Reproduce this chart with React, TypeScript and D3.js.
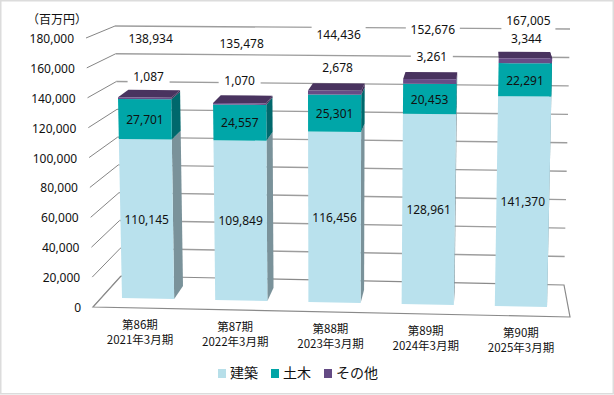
import React from "react";
import * as d3 from "d3";

const periods = ["第86期", "第87期", "第88期", "第89期", "第90期"];
const fiscalYears = ["2021年3月期", "2022年3月期", "2023年3月期", "2024年3月期", "2025年3月期"];
const kenchiku = [110145, 109849, 116456, 128961, 141370];
const doboku = [27701, 24557, 25301, 20453, 22291];
const sonota = [1087, 1070, 2678, 3261, 3344];
const totals = [138934, 135478, 144436, 152676, 167005];
const valueTicks = d3.range(0, 180001, 20000);
const legendNames = ["建築", "土木", "その他"];

const otherLabelShift = [[4, -21], [0, -23], [3, -23], [2, -23], [1, -20]];
const totalLabelShift = [[6, -59], [2, -60], [4, -56], [3, -50], [3, -38]];

type Pt = [number, number];
const lerp = (a: Pt, b: Pt, t: number): Pt => [a[0] + (b[0] - a[0]) * t, a[1] + (b[1] - a[1]) * t];
const bilinear = (bl: Pt, br: Pt, tl: Pt, tr: Pt) => (u: number, v: number): Pt =>
  lerp(lerp(bl, br, u), lerp(tl, tr, u), v);

const vScale = d3.scaleLinear().domain([0, 180000]).range([0, 1]);
const band = d3.scaleBand<number>().domain(d3.range(5)).range([0, 1]).paddingInner(0.44).paddingOuter(0);

const front = bilinear([122, 298], [547, 307], [116.8, 38], [552.5, 39]);
const backWall = bilinear([121, 276], [564, 285], [115, 26], [570, 29]);
const leftEdge = (v: number) => lerp([93, 307], [86, 38], v);

const VP: Pt = [483, -165];
const DEPTH = 0.0285;
const toBack = (p: Pt): Pt => lerp(p, VP, DEPTH);

const poly = (pts: Pt[]) => pts.map((p) => p.map((n) => n.toFixed(2)).join(",")).join(" ");

const seriesStyle = [
  { front: "#b9e1ed", side: "#7a929a", top: "#b9e1ed" },
  { front: "#00a6a8", side: "#00686c", top: "#00a6a8" },
  { front: "#674c86", side: "#3f2d57", top: "#49335f" },
];
const legendColors = ["#b7dfe9", "#00a4a6", "#644a84"];

const NUM = "'Noto Sans', 'Noto Sans CJK JP', sans-serif";
const CJK = "'Noto Sans CJK JP', 'Noto Sans', sans-serif";
const fmt = d3.format(",");
const catX = d3.scaleLinear().domain([0, 4]).range([140, 521]);
const catY = d3.scaleLinear().domain([0, 4]).range([325, 333]);

export default function App() {
  const bars = d3.range(5).map((i) => {
    const u0 = band(i)!;
    const u1 = u0 + band.bandwidth();
    const stops = [0, kenchiku[i], kenchiku[i] + doboku[i], kenchiku[i] + doboku[i] + sonota[i]];
    const segs = [0, 1, 2].map((s) => {
      const a = stops[s], b = stops[s + 1];
      const bl = front(u0, vScale(a)), br = front(u1, vScale(a));
      const tl = front(u0, vScale(b)), tr = front(u1, vScale(b));
      return { s, bl, br, tl, tr };
    });
    const top = segs[2];
    const mid = (s: number): Pt => {
      const g = segs[s];
      return lerp(lerp(g.bl, g.br, 0.5), lerp(g.tl, g.tr, 0.5), 0.5);
    };
    const c = lerp(top.tl, top.tr, 0.5);
    return { i, segs, top, mid, c };
  });

  const labelBoxes: { x: number; y: number; w: number }[] = [];
  const upperLabels = bars.flatMap((b) => {
    const o: Pt = [b.c[0] + otherLabelShift[b.i][0], b.c[1] + otherLabelShift[b.i][1]];
    const t: Pt = [b.c[0] + totalLabelShift[b.i][0], b.c[1] + totalLabelShift[b.i][1]];
    labelBoxes.push({ x: o[0], y: o[1], w: 42 }, { x: t[0], y: t[1], w: 54 });
    return [
      { p: o, v: sonota[b.i] },
      { p: t, v: totals[b.i] },
    ];
  });

  return (
    <svg width={614} height={395} style={{ position: "absolute", left: 0, top: 0 }}>
      <rect x={0} y={0} width={614} height={395} fill="#fff" />
      <rect x={0.75} y={0.75} width={612.5} height={393} fill="none" stroke="#dcdcdc" strokeWidth={1.5} />

      {valueTicks.map((t) => {
        const v = vScale(t);
        const a = leftEdge(v), b = backWall(0, v), c = backWall(1, v);
        return (
          <g key={t}>
            <line x1={a[0]} y1={a[1]} x2={b[0]} y2={b[1]} stroke="#858585" strokeWidth={1} />
            {t > 0 && <line x1={b[0]} y1={b[1]} x2={c[0]} y2={c[1]} stroke="#9d9d9d" strokeWidth={1.4} />}
            <text x={a[0] - 12} y={a[1] + 0.7} dy="0.36em" textAnchor="end" fontFamily={NUM} fontSize={12} fill="#111">
              {fmt(t)}
            </text>
          </g>
        );
      })}

      <polyline
        points={poly([backWall(0, 0), backWall(1, 0), [570, 317], [93, 307], backWall(0, 0)])}
        fill="#fff"
        stroke="#8a8a8a"
        strokeWidth={1.2}
      />
      {labelBoxes.map((b, k) => (
        <rect key={k} x={b.x - b.w / 2} y={b.y - 10} width={b.w} height={20} fill="#fff" />
      ))}

      {bars.map((b) => (
        <g key={b.i}>
          {b.segs.map((g) => (
            <polygon
              key={"side" + g.s}
              points={poly([g.br, g.tr, toBack(g.tr), toBack(g.br)])}
              fill={seriesStyle[g.s].side}
            />
          ))}
          <polygon
            points={poly([b.top.tl, b.top.tr, toBack(b.top.tr), toBack(b.top.tl)])}
            fill={seriesStyle[2].top}
          />
          {b.segs.map((g) => (
            <polygon key={"front" + g.s} points={poly([g.bl, g.br, g.tr, g.tl])} fill={seriesStyle[g.s].front} />
          ))}
        </g>
      ))}

      {bars.map((b) => (
        <g key={"lab" + b.i} fontFamily={NUM} fontSize={12} fill="#111" textAnchor="middle">
          <text x={b.mid(0)[0]} y={b.mid(0)[1] + 0.5} dy="0.36em">{fmt(kenchiku[b.i])}</text>
          <text x={b.mid(1)[0]} y={b.mid(1)[1] + 0.5} dy="0.36em">{fmt(doboku[b.i])}</text>
        </g>
      ))}
      {upperLabels.map((l, k) => (
        <text key={k} x={l.p[0]} y={l.p[1] + 0.5} dy="0.36em" textAnchor="middle" fontFamily={NUM} fontSize={12} fill="#111">
          {fmt(l.v)}
        </text>
      ))}

      {periods.map((p, i) => (
        <g key={p} fontFamily={CJK} fontSize={11.5} fill="#111" textAnchor="middle">
          <text x={catX(i)} y={catY(i)} dy="0.36em">{p}</text>
          <text x={catX(i)} y={catY(i) + 15} dy="0.36em">{fiscalYears[i]}</text>
        </g>
      ))}

      <text x={27} y={20} dy="0.36em" fontFamily={CJK} fontSize={12} fill="#111">（百万円）</text>

      {legendNames.map((n, i) => {
        const x = [218, 271, 324][i];
        return (
          <g key={n}>
            <rect x={x} y={369} width={8} height={9} fill={legendColors[i]} />
            <text x={x + 12} y={373} dy="0.36em" fontFamily={CJK} fontSize={14} fill="#111">{n}</text>
          </g>
        );
      })}
    </svg>
  );
}
